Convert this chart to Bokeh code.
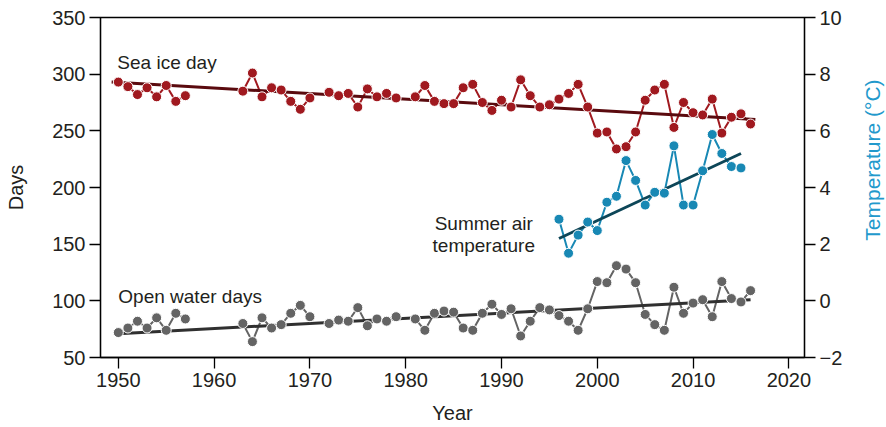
import math
from bokeh.plotting import figure
from bokeh.layouts import row
from bokeh.models import Range1d, LinearAxis, FixedTicker, Label
from bokeh.embed import file_html
from bokeh.resources import INLINE

NaN = float("nan")

# ---------------- data ----------------
years = list(range(1950, 1958)) + list(range(1963, 2017))

sea_ice_days = [293, 289, 282, 288, 280, 290, 276, 281,
                285, 301, 280, 288, 286, 276, 269, 279, None,
                284, 281, 283, 271, 287, 280, 283, 279, None,
                280, 290, 276, 274, 274, 288, 291, 275, 268, 277,
                271, 295, 281, 271, 273, 278, 283, 291, 271, 248,
                249, 234, 236, 249, 277, 286, 291, 253, 275, 266,
                264, 278, 248, 262, 265, 256]

open_water_days = [72, 76, 82, 76, 85, 74, 89, 84,
                   80, 64, 85, 76, 79, 89, 96, 86, None,
                   80, 83, 82, 94, 78, 84, 82, 86, None,
                   84, 74, 89, 91, 90, 76, 74, 89, 97, 88,
                   93, 69, 82, 94, 92, 87, 82, 74, 93, 117,
                   116, 131, 128, 116, 88, 79, 74, 112, 89, 98,
                   101, 86, 117, 102, 99, 109]

temp_years = list(range(1996, 2016))
summer_temp = [2.88, 1.68, 2.32, 2.78, 2.48, 3.48, 3.69, 4.95, 4.25, 3.38,
               3.83, 3.80, 5.47, 3.38, 3.38, 4.59, 5.87, 5.20, 4.74, 4.69]

# trend lines (end points)
sea_ice_trend_years = [1949.3, 2016.5]
sea_ice_trend = [293, 260]
open_water_trend_years = [1950, 2016]
open_water_trend = [71, 101]
temp_trend_years = [1996, 2015]
temp_trend = [2.2, 5.2]

x_ticks = [1950, 1960, 1970, 1980, 1990, 2000, 2010, 2020]
days_ticks = [50, 100, 150, 200, 250, 300, 350]
temp_ticks = [-2, 0, 2, 4, 6, 8, 10]

# ---------------- helpers ----------------
def line_xy(xs, ys):
    lx, ly = [], []
    prev = None
    for x, y in zip(xs, ys):
        if prev is not None and x - prev > 1:
            lx.append(NaN); ly.append(NaN)
        lx.append(x)
        ly.append(NaN if y is None else y)
        prev = x
    return lx, ly

def pts(xs, ys):
    px, py = [], []
    for x, y in zip(xs, ys):
        if y is not None:
            px.append(x); py.append(y)
    return px, py

FONT = "Liberation Sans"
TXT = "#231f20"
RED = "#a0191f"
RED_D = "#5a0a0e"
GRAY = "#646464"
GRAY_D = "#303030"
BLUE = "#1888b4"
BLUE_D = "#0d4658"
BLUE_LBL = "#2299cc"

p = figure(width=850, height=427,
           x_range=Range1d(1948.14, 2021.63), y_range=Range1d(50, 350),
           output_backend="svg", toolbar_location=None,
           min_border_left=100, min_border_right=46,
           min_border_top=17, min_border_bottom=70)
p.extra_y_ranges = {"temp": Range1d(-2, 10)}

p.xgrid.visible = False
p.ygrid.visible = False
p.outline_line_color = "black"
p.outline_line_width = 1.3
p.background_fill_color = "white"
p.border_fill_color = "white"

right = LinearAxis(y_range_name="temp")
p.add_layout(right, "right")

for ax in [p.xaxis[0], p.yaxis[0], right]:
    ax.axis_line_color = "black"
    ax.axis_line_width = 1.3
    ax.major_tick_line_color = "black"
    ax.major_tick_line_width = 1.3
    ax.major_tick_out = 11
    ax.major_tick_in = 0
    ax.minor_tick_out = 0
    ax.minor_tick_in = 0
    ax.major_label_text_font = FONT
    ax.major_label_text_font_size = "20px"
    ax.major_label_text_color = TXT
    ax.major_label_standoff = 4
    ax.axis_label_text_font = FONT
    ax.axis_label_text_font_size = "20px"
    ax.axis_label_text_font_style = "normal"
    ax.axis_label_text_color = TXT

p.xaxis[0].ticker = FixedTicker(ticks=x_ticks)
p.xaxis[0].axis_label = "Year"
p.xaxis[0].axis_label_standoff = 12
p.yaxis[0].ticker = FixedTicker(ticks=days_ticks)
p.yaxis[0].axis_label = "Days"
p.yaxis[0].axis_label_standoff = 22
right.ticker = FixedTicker(ticks=temp_ticks)

# sea ice
lx, ly = line_xy(years, sea_ice_days)
p.line(lx, ly, line_color=RED, line_width=2)
p.line(sea_ice_trend_years, sea_ice_trend, line_color=RED_D, line_width=3)
px, py = pts(years, sea_ice_days)
p.scatter(px, py, size=10, fill_color=RED, line_color="white", line_width=1)

# open water
lx, ly = line_xy(years, open_water_days)
p.line(lx, ly, line_color=GRAY, line_width=2)
p.line(open_water_trend_years, open_water_trend, line_color=GRAY_D, line_width=3)
px, py = pts(years, open_water_days)
p.scatter(px, py, size=10, fill_color=GRAY, line_color="white", line_width=1)

# temperature
p.line(temp_years, summer_temp, line_color=BLUE, line_width=2, y_range_name="temp")
p.line(temp_trend_years, temp_trend, line_color=BLUE_D, line_width=3, y_range_name="temp")
p.scatter(temp_years, summer_temp, size=10, fill_color=BLUE, line_color="white",
          line_width=1, y_range_name="temp")

def lab(x, y, t, align="left"):
    p.add_layout(Label(x=x, y=y, text=t, text_font=FONT, text_font_size="19px",
                       text_color=TXT, text_align=align, text_baseline="alphabetic"))

lab(1949.9, 310, "Sea ice day")
lab(1950.0, 104, "Open water days")
lab(1988.15, 168, "Summer air", "center")
lab(1988.15, 148.8, "temperature", "center")

# narrow strip holding the right-hand axis title (reads bottom to top)
q = figure(width=36, height=427, x_range=Range1d(0, 36), y_range=Range1d(0, 427),
           output_backend="svg", toolbar_location=None, min_border=0)
q.axis.visible = False
q.xgrid.visible = False
q.ygrid.visible = False
q.outline_line_color = None
q.border_fill_color = "white"
q.add_layout(Label(x=22, y=248, x_units="data", y_units="data",
                   text="Temperature (°C)", angle=math.pi / 2,
                   text_align="center", text_baseline="middle",
                   text_font=FONT, text_font_size="21px", text_color=BLUE_LBL))

layout = row(p, q, spacing=0)
open("out.html", "w").write(file_html(layout, INLINE))
